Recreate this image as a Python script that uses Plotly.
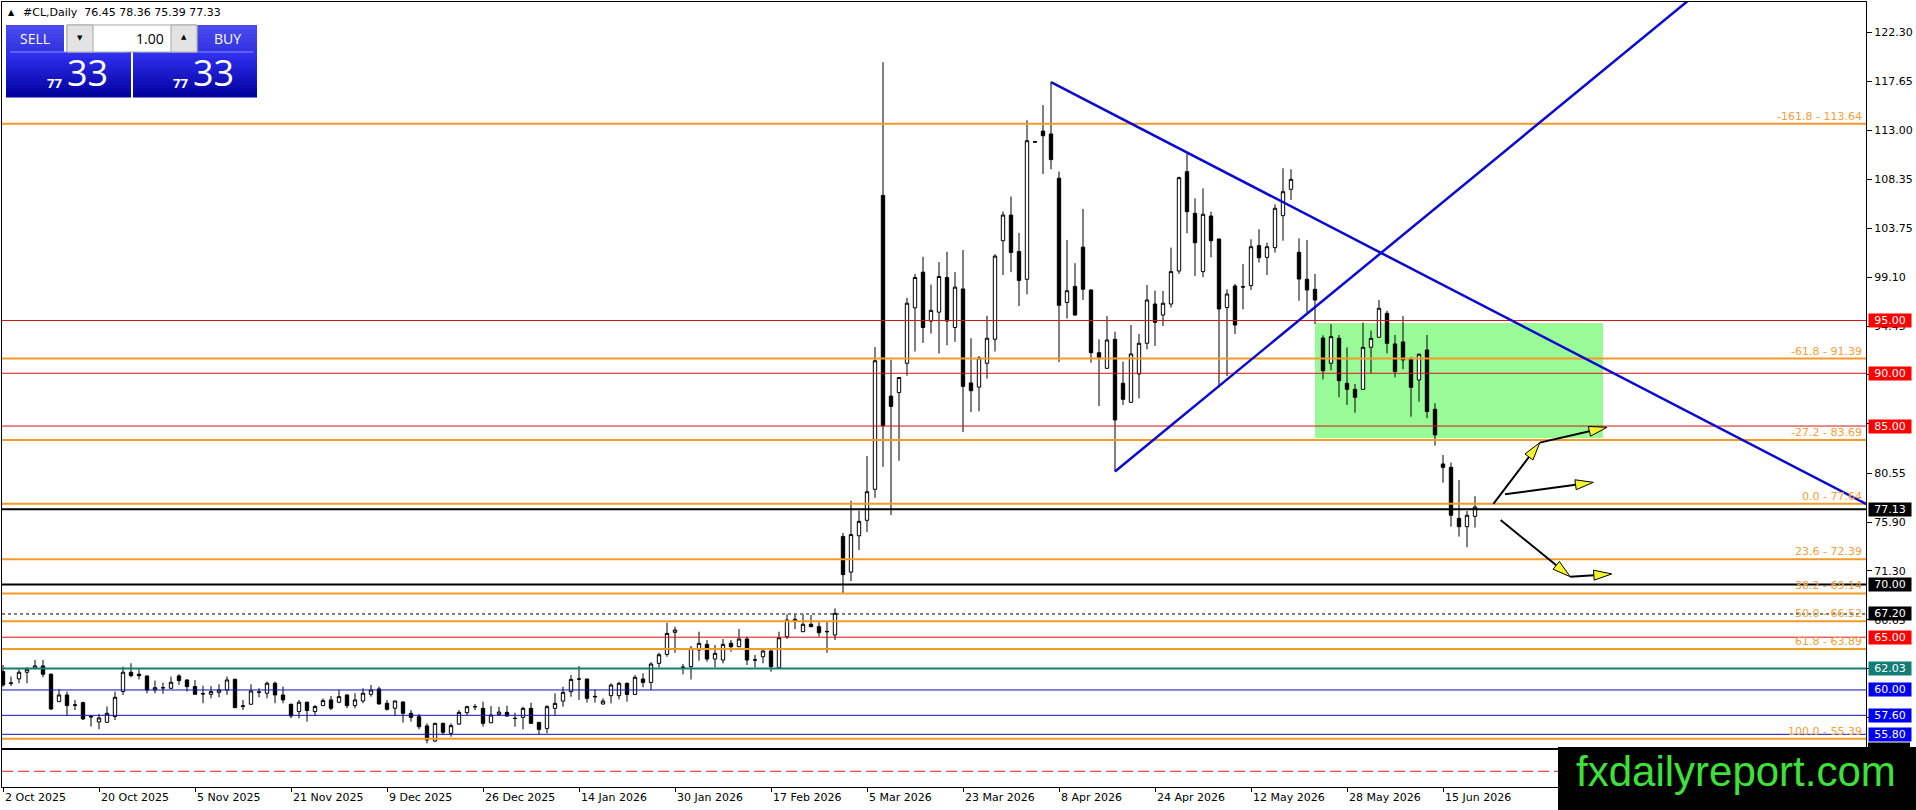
import plotly.graph_objects as go

# ---------------- data (daily bars, index 0 = 2 Oct 2025) ----------------
opens = [61.74, 60.62, 61.05, 61.68, 62.06, 62.28, 61.49, 58.90, 59.53, 58.60,
         58.80, 57.50, 56.97, 56.94, 57.48, 59.85, 61.68, 61.49, 61.33, 60.00,
         60.22, 60.16, 61.33, 60.95, 60.32, 59.66, 59.59, 59.78, 60.00, 61.02,
         58.50, 58.65, 59.78, 59.69, 60.64, 59.53, 58.65, 57.95, 58.84, 57.95,
         58.52, 59.06, 58.84, 59.53, 58.52, 58.96, 59.59, 60.10, 58.74, 58.27,
         58.87, 57.79, 57.47, 56.60, 55.16, 56.84, 55.89, 56.77, 57.85, 58.40,
         58.26, 56.90, 57.69, 57.88, 57.30, 57.41, 58.26, 56.93, 56.36, 58.26,
         58.95, 59.84, 61.03, 61.04, 59.40, 58.67, 59.46, 59.46, 60.63, 59.58,
         61.04, 60.72, 62.52, 63.37, 65.46, 62.14, 62.21, 63.78, 64.32, 62.93,
         62.84, 64.42, 64.10, 64.83, 62.86, 63.15, 63.69, 62.11, 65.05, 66.69,
         65.52, 66.22, 66.00, 65.55, 65.21, 74.55, 71.16, 74.61, 76.07, 79.01,
         106.85, 87.84, 88.18, 90.95, 96.20, 99.58, 94.95, 95.79, 99.07, 94.34,
         97.99, 89.09, 88.69, 90.95, 93.22, 102.56, 104.99, 101.54, 98.90, 111.95,
         112.94, 112.67, 108.48, 96.71, 98.23, 101.95, 97.89, 91.95, 90.47, 93.22,
         89.05, 87.25, 89.93, 92.84, 96.56, 95.52, 96.56, 99.69, 109.10, 105.15,
         99.63, 104.90, 102.72, 96.22, 98.27, 98.20, 98.30, 102.09, 100.98, 101.90,
         104.93, 107.43, 101.46, 98.90, 97.95, 93.34, 90.95, 93.31, 89.05, 88.48,
         88.48, 92.46, 93.41, 95.68, 92.78, 92.97, 91.42, 89.37, 92.21, 86.59,
         81.41, 81.09, 76.26, 75.47, 76.45]
highs = [62.37, 61.27, 61.96, 62.15, 62.85, 62.85, 61.58, 60.07, 59.85, 59.06,
         58.90, 57.64, 57.73, 58.43, 59.85, 62.21, 62.53, 61.96, 61.36, 60.89,
         60.70, 61.27, 61.49, 61.00, 60.95, 60.41, 60.38, 60.54, 61.27, 61.05,
         59.06, 60.54, 60.16, 60.80, 60.80, 60.32, 58.70, 59.06, 58.90, 58.58,
         59.21, 59.44, 60.00, 59.58, 59.69, 60.16, 60.48, 60.32, 59.06, 58.98,
         58.90, 58.10, 57.72, 56.84, 56.90, 56.90, 56.84, 58.10, 58.51, 58.67,
         58.89, 58.48, 58.42, 58.51, 57.85, 58.42, 58.80, 56.95, 58.57, 59.68,
         60.31, 61.42, 62.27, 61.06, 60.06, 59.21, 60.63, 60.78, 60.72, 61.42,
         61.57, 62.62, 63.53, 66.37, 66.00, 62.46, 64.16, 65.52, 64.73, 64.26,
         64.83, 64.73, 65.77, 65.05, 63.31, 63.94, 63.94, 65.52, 67.16, 67.16,
         67.16, 67.10, 66.41, 66.56, 67.73, 74.88, 77.93, 76.98, 82.16, 92.48,
         119.47, 91.29, 89.65, 97.15, 99.41, 101.04, 98.40, 100.53, 101.51, 99.58,
         101.68, 93.32, 91.63, 95.45, 101.27, 105.33, 106.75, 103.30, 113.96, 112.00,
         115.41, 117.58, 109.12, 102.63, 100.43, 105.57, 97.95, 93.22, 95.43, 93.94,
         91.10, 94.57, 93.72, 98.36, 97.83, 97.80, 101.90, 108.63, 110.84, 106.57,
         107.52, 105.31, 102.75, 97.95, 98.46, 100.35, 102.69, 103.64, 102.37, 106.00,
         109.42, 109.32, 102.78, 102.63, 99.41, 93.60, 94.66, 93.63, 92.46, 88.99,
         94.80, 94.04, 96.95, 95.93, 93.63, 95.43, 91.51, 91.89, 93.63, 87.16,
         82.26, 81.54, 79.89, 76.96, 78.36]
lows = [60.30, 60.38, 60.64, 60.64, 61.96, 61.20, 58.10, 58.85, 57.54, 58.10,
        57.16, 56.53, 56.28, 56.90, 57.16, 59.53, 61.20, 61.00, 59.69, 59.69,
        59.63, 60.10, 60.48, 59.85, 59.55, 58.74, 59.21, 59.31, 59.53, 58.27,
        58.10, 58.60, 59.31, 59.21, 58.74, 58.74, 57.32, 57.32, 57.00, 57.54,
        58.48, 58.10, 58.74, 58.27, 58.27, 58.74, 59.37, 58.60, 58.05, 57.54,
        56.91, 57.00, 56.27, 54.94, 55.10, 55.73, 55.57, 56.70, 57.63, 58.10,
        56.52, 56.85, 57.57, 57.47, 56.52, 56.27, 56.80, 55.73, 55.89, 57.57,
        58.42, 59.36, 59.05, 58.80, 58.80, 58.65, 58.73, 59.11, 58.89, 59.55,
        60.25, 60.00, 62.14, 63.15, 63.53, 61.48, 61.00, 62.77, 62.68, 62.14,
        62.52, 63.63, 64.05, 62.36, 62.14, 62.52, 61.73, 62.08, 64.83, 65.77,
        65.50, 65.95, 65.05, 63.53, 64.73, 69.13, 70.32, 73.26, 74.95, 78.20,
        81.14, 76.58, 81.72, 89.77, 92.07, 92.88, 93.76, 91.87, 92.65, 92.98,
        84.43, 86.32, 86.39, 89.50, 92.07, 99.31, 99.58, 96.37, 97.48, 111.85,
        108.88, 109.32, 91.06, 95.18, 95.45, 96.94, 91.01, 86.90, 90.40, 80.70,
        87.00, 87.20, 87.63, 92.27, 92.59, 94.48, 96.22, 99.41, 103.26, 99.22,
        99.09, 100.98, 88.67, 89.74, 93.72, 96.06, 97.89, 100.48, 99.31, 101.43,
        102.56, 106.42, 96.88, 95.74, 94.67, 89.43, 90.28, 87.73, 87.00, 86.27,
        88.45, 90.00, 93.38, 91.89, 89.62, 90.38, 85.89, 87.31, 85.74, 83.15,
        79.64, 75.47, 74.53, 73.52, 75.39]
closes = [60.48, 60.66, 61.68, 61.96, 62.28, 61.49, 58.20, 59.53, 58.52, 58.55,
          57.26, 57.45, 57.35, 57.79, 59.31, 61.68, 61.36, 61.36, 60.00, 60.22,
          60.20, 60.73, 60.89, 60.32, 59.59, 59.63, 59.85, 60.00, 60.95, 58.33,
          58.45, 59.91, 59.80, 60.64, 59.53, 59.06, 57.54, 58.84, 58.05, 58.43,
          58.99, 58.27, 59.37, 58.52, 59.06, 59.69, 60.00, 58.68, 58.17, 58.96,
          57.79, 57.41, 56.52, 55.26, 56.84, 55.99, 56.62, 57.88, 58.42, 58.42,
          56.84, 57.63, 57.91, 57.53, 57.31, 58.26, 56.84, 56.27, 58.42, 58.73,
          59.78, 61.00, 61.04, 59.21, 59.36, 58.95, 60.47, 60.63, 59.58, 61.20,
          60.72, 62.46, 63.34, 65.36, 65.68, 62.16, 63.94, 64.42, 62.93, 63.47,
          64.32, 64.10, 64.83, 62.84, 62.84, 63.69, 62.21, 64.95, 66.63, 66.53,
          66.22, 66.00, 65.43, 65.52, 67.26, 70.93, 74.72, 75.97, 78.78, 91.19,
          85.03, 86.86, 89.60, 96.64, 99.07, 94.34, 95.96, 99.17, 94.95, 98.16,
          88.76, 88.35, 91.46, 93.32, 101.10, 104.99, 101.44, 98.80, 112.03, 111.90,
          112.50, 110.24, 96.44, 97.82, 95.52, 97.96, 91.95, 91.51, 93.15, 85.58,
          87.53, 91.83, 92.84, 96.94, 94.83, 96.63, 99.63, 108.53, 105.31, 102.37,
          105.06, 102.56, 96.09, 97.51, 94.57, 98.17, 101.99, 100.95, 101.99, 105.63,
          107.20, 108.37, 98.93, 97.89, 96.94, 90.24, 93.47, 89.30, 88.48, 87.73,
          92.46, 93.31, 96.16, 92.84, 90.16, 91.26, 88.67, 91.80, 86.37, 84.16,
          81.09, 76.55, 75.47, 76.55, 77.33]

date_labels = ["2 Oct 2025", "20 Oct 2025", "5 Nov 2025", "21 Nov 2025", "9 Dec 2025",
               "26 Dec 2025", "14 Jan 2026", "30 Jan 2026", "17 Feb 2026", "5 Mar 2026",
               "23 Mar 2026", "8 Apr 2026", "24 Apr 2026", "12 May 2026", "28 May 2026",
               "15 Jun 2026"]
bars_per_label = 12

price_ticks = [122.30, 117.65, 113.00, 108.35, 103.75, 99.10, 94.45, 89.85,
               85.20, 80.55, 75.90, 71.30, 66.65, 62.00, 57.40, 52.75]
# ticks whose text sits fully behind a level label in the original
hidden_ticks = [89.85, 85.20, 62.00, 57.40, 52.75]

fib_ratios = ["-161.8", "-61.8", "-27.2", "0.0", "23.6", "38.2", "50.0", "61.8", "100.0"]
fib_prices = [113.64, 91.39, 83.69, 77.64, 72.39, 69.14, 66.52, 63.89, 55.39]

level_prices = [95.00, 90.00, 85.00, 77.13, 70.00, 67.20, 65.00, 62.03, 60.00, 57.60, 55.80, 54.40, 52.30]
level_styles = ["red", "red", "red", "black", "black", "dots", "red", "teal",
                "blue", "blue", "blue", "black", "reddash"]

zone_bars = [164, 200]
zone_prices = [83.84, 94.76]

down_trend_bars = [131, 233]
down_trend_prices = [117.58, 77.58]
up_trend_bars = [139, 215]
up_trend_prices = [80.70, 128.01]

# arrows: (from bar, from price, to bar, to price)
arrow_paths = [
    (186.3, 77.62, 192.1, 83.43),
    (192.1, 83.43, 200.5, 84.88),
    (187.75, 78.54, 198.8, 79.67),
    (187.2, 76.10, 195.9, 70.73),
    (195.9, 70.73, 201.1, 70.99),
]

header = "#CL,Daily\u00a0\u00a076.45 78.36 75.39 77.33"
bid_big, bid_small = "33", "77"
lot_size = "1.00"
watermark = "fxdailyreport.com"

# ---------------- geometry ----------------
W, H = 1916, 810
ML, MR, MT, MB = 2, 50, 2, 23
PW, PH = W - ML - MR, H - MT - MB
x_range = [-0.125, 232.875]
y_range = [50.81, 125.17]
XS = PW / (x_range[1] - x_range[0])
YS = PH / (y_range[1] - y_range[0])

FONT = "DejaVu Sans"
RED, BLUE, TEAL = "#D51414", "#1010B4", "#127E76"
ORANGE, ORANGE_TXT = "#F39A28", "#F2A040"
TREND = "#0A0AD0"


def paper(x, y):
    return (x - ML) / PW, (H - MB - y) / PH


def prect(x0, y0, x1, y1, color, line=None, layer="above"):
    a, b = paper(x0, y1)
    c, d = paper(x1, y0)
    ln = dict(width=0) if line is None else dict(color=line, width=1)
    return dict(type="rect", xref="paper", yref="paper", x0=a, y0=b, x1=c, y1=d,
                fillcolor=color, line=ln, layer=layer)


def ptext(x, y, text, size, color, family="Open Sans", xanchor="center", bold=False):
    a, b = paper(x, y)
    if bold:
        text = "<b>" + text + "</b>"
    return dict(xref="paper", yref="paper", x=a, y=b, text=text, showarrow=False,
                xanchor=xanchor, yanchor="middle", font=dict(family=family, size=size, color=color))


def mix(c0, c1, t):
    return "rgb(%d,%d,%d)" % tuple(round(c0[k] + (c1[k] - c0[k]) * t) for k in range(3))


fig = go.Figure()
fig.add_trace(go.Candlestick(
    x=list(range(len(opens))), open=opens, high=highs, low=lows, close=closes,
    increasing=dict(line=dict(color="black", width=1), fillcolor="white"),
    decreasing=dict(line=dict(color="black", width=1), fillcolor="black"),
    whiskerwidth=0, hoverinfo="skip", showlegend=False,
))

shapes = []
annotations = []

# green zone (behind candles)
shapes.append(dict(type="rect", xref="x", yref="y", x0=zone_bars[0], x1=zone_bars[1],
                   y0=zone_prices[0], y1=zone_prices[1], fillcolor="#98FB98",
                   line=dict(width=0), layer="below"))

# horizontal levels
style_map = {
    "red": (RED, 1, "solid"), "blue": (BLUE, 1, "solid"), "teal": (TEAL, 2, "solid"),
    "black": ("black", 2, "solid"), "dots": ("black", 1, "3px,3px"),
    "reddash": ("#CC2222", 1, "11px,5px"),
}
label_bg = {"red": "#FF0000", "blue": "#0000F0", "teal": TEAL, "black": "black", "dots": "black"}
for p, s in zip(level_prices, level_styles):
    col, w, dash = style_map[s]
    shapes.append(dict(type="line", xref="paper", yref="y", x0=0, x1=1, y0=p, y1=p,
                       line=dict(color=col, width=w, dash=dash), layer="above"))

for r, p in zip(fib_ratios, fib_prices):
    shapes.append(dict(type="line", xref="paper", yref="y", x0=0, x1=1, y0=p, y1=p,
                       line=dict(color=ORANGE, width=2), layer="above"))
    annotations.append(dict(xref="paper", yref="y", x=(1863 - ML) / PW, y=p,
                            text="%s - %.2f" % (r, p), showarrow=False, xanchor="right",
                            yanchor="bottom", yshift=0, borderpad=0,
                            font=dict(family=FONT, size=11, color=ORANGE_TXT)))

# trend lines
shapes.append(dict(type="line", xref="x", yref="y", x0=down_trend_bars[0], x1=down_trend_bars[1],
                   y0=down_trend_prices[0], y1=down_trend_prices[1],
                   line=dict(color=TREND, width=2.5), layer="above"))
shapes.append(dict(type="line", xref="x", yref="y", x0=up_trend_bars[0], x1=up_trend_bars[1],
                   y0=up_trend_prices[0], y1=up_trend_prices[1],
                   line=dict(color=TREND, width=2.5), layer="above"))

# arrows with yellow heads
HEAD_L, HEAD_W = 18, 10
for x0, y0, x1, y1 in arrow_paths:
    dx, dy = (x1 - x0) * XS, -(y1 - y0) * YS
    n = (dx * dx + dy * dy) ** 0.5
    ux, uy = dx / n, dy / n
    bx, by = -ux * HEAD_L, -uy * HEAD_L
    px_, py_ = -uy * HEAD_W / 2, ux * HEAD_W / 2
    base = (x1 + bx / XS, y1 - by / YS)
    c1 = (base[0] + px_ / XS, base[1] - py_ / YS)
    c2 = (base[0] - px_ / XS, base[1] + py_ / YS)
    shapes.append(dict(type="line", xref="x", yref="y", x0=x0, y0=y0, x1=base[0], y1=base[1],
                       line=dict(color="black", width=2), layer="above"))
    shapes.append(dict(type="path", xref="x", yref="y",
                       path="M %f %f L %f %f L %f %f Z" % (x1, y1, c1[0], c1[1], c2[0], c2[1]),
                       fillcolor="#F4F42C", line=dict(color="black", width=1), layer="above"))

# price labels on the right axis (the lowest one sits under the watermark box)
label_x = (1868 - ML) / PW
for p, s in zip(level_prices, level_styles):
    if s == "reddash":
        continue
    if p < 55:
        half = 6.5 / YS
        shapes.append(dict(type="rect", xref="paper", yref="y", x0=label_x, x1=(1910 - ML) / PW,
                           y0=p - half, y1=p + half, fillcolor=label_bg[s], line=dict(width=0),
                           layer="above"))
        continue
    annotations.append(dict(xref="paper", yref="y", x=label_x, y=p,
                            text="%.2f" % p, showarrow=False, xanchor="left", yanchor="middle",
                            width=42, height=13, borderpad=0, bgcolor=label_bg[s], align="center",
                            font=dict(family=FONT, size=11, color="white")))

# date labels (left aligned at their tick)
tick_bars = [k * bars_per_label for k in range(len(date_labels))]
for b, lab in zip(tick_bars, date_labels):
    annotations.append(dict(xref="x", yref="paper", x=b, y=paper(0, 797)[1], text=lab,
                            showarrow=False, xanchor="left", yanchor="middle", xshift=0,
                            font=dict(family=FONT, size=11, color="black")))

# header
annotations.append(ptext(6, 13, "\u25b2", 8, "black", family=FONT, xanchor="left"))
annotations.append(ptext(21, 13, header, 11, "black", family=FONT, xanchor="left"))

# trade panel
top_c0, top_c1 = (74, 74, 240), (52, 52, 226)
low_c0, low_c1 = (48, 48, 240), (2, 2, 160)
for xa, xb in [(6, 64), (197, 257)]:
    for k in range(6):
        shapes.append(prect(xa, 25 + k * 4.5, xb, 25 + (k + 1) * 4.5 + 0.5, mix(top_c0, top_c1, k / 5)))
for xa, xb in [(6, 131), (133, 257)]:
    for k in range(15):
        shapes.append(prect(xa, 52 + k * 3, xb, 52 + (k + 1) * 3 + 0.5, mix(low_c0, low_c1, k / 14)))
    shapes.append(prect(xa + 4, 51.5, xb - 4, 52.5, "#8C8CFF"))
shapes.append(prect(67, 25, 197, 52, "white", line="#A8A8A8"))
shapes.append(prect(67, 25, 93, 52, "#E3E3E3", line="#A8A8A8"))
shapes.append(prect(171, 25, 197, 52, "#E3E3E3", line="#A8A8A8"))

annotations.append(ptext(35, 39, "SELL", 14, "white"))
annotations.append(ptext(227, 39, "BUY", 14, "white"))
annotations.append(ptext(80, 38, "\u25bc", 7, "black", family=FONT))
annotations.append(ptext(184, 37, "\u25b2", 7, "black", family=FONT))
annotations.append(ptext(166, 39, lot_size, 14, "black", xanchor="right"))
for xs, xb in [(54, 87), (180, 213)]:
    annotations.append(ptext(xs, 83, bid_small, 13, "white", bold=True))
    annotations.append(ptext(xb, 73, bid_big, 36, "white"))

# watermark
shapes.append(prect(1558, 747, W, H, "black"))
annotations.append(ptext(1736, 771, watermark, 42, "#3EE03A", family="Liberation Sans"))

fig.update_layout(
    width=W, height=H,
    margin=dict(l=ML, r=MR, t=MT, b=MB, pad=0),
    paper_bgcolor="white", plot_bgcolor="white",
    boxgap=0.4,
    shapes=shapes, annotations=annotations,
    font=dict(family=FONT, size=11, color="black"),
    xaxis=dict(range=x_range, showgrid=False, zeroline=False, showline=True, mirror=True,
               linecolor="black", linewidth=1, ticks="outside", ticklen=4, tickcolor="black",
               tickvals=tick_bars, showticklabels=False, rangeslider=dict(visible=False),
               fixedrange=True),
    yaxis=dict(range=y_range, side="right", showgrid=False, zeroline=False, showline=True,
               mirror=True, linecolor="black", linewidth=1, ticks="outside", ticklen=5,
               tickcolor="black", tickvals=price_ticks,
               ticktext=["" if v in hidden_ticks else "%.2f" % v for v in price_ticks],
               tickfont=dict(family=FONT, size=11, color="black"), fixedrange=True),
)

# the page body has a default 8px margin; drop it so the chart sits at the window corner
fig.write_html("out.html", config={"displayModeBar": False},
               post_script="document.body.style.margin='0';")
